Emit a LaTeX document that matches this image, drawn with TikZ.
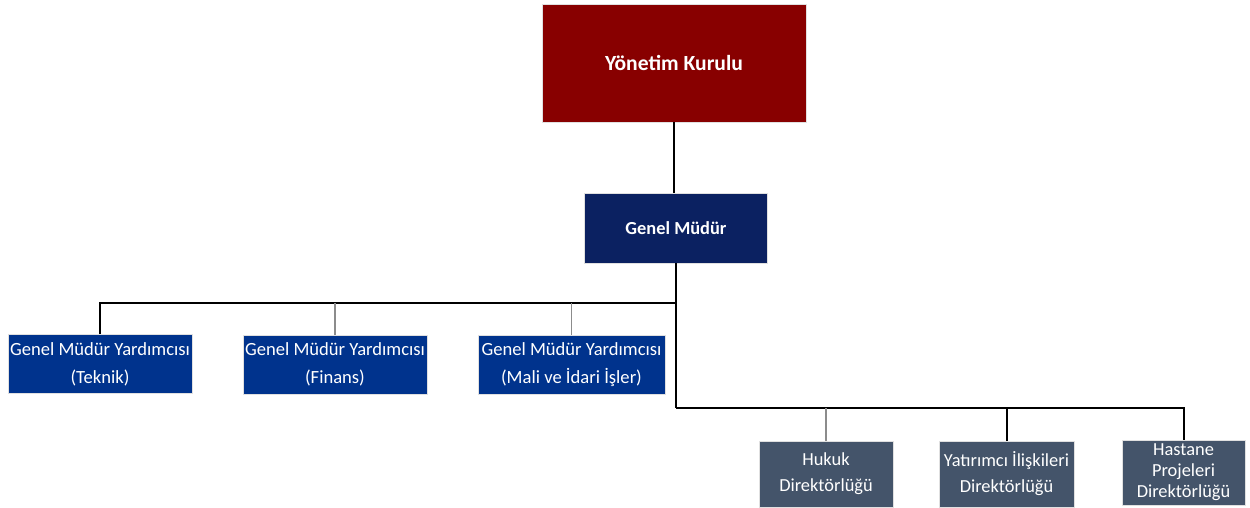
\documentclass[tikz,border=0pt]{standalone}
\usepackage{fontspec}
\setmainfont{Carlito}
\definecolor{boardred}{HTML}{880000}
\definecolor{gmnavy}{HTML}{0B2161}
\definecolor{gmyblue}{HTML}{00338D}
\definecolor{dirslate}{HTML}{44546A}
\begin{document}
\begin{tikzpicture}[x=0.5pt,y=-0.5pt,
  boxbase/.style={rectangle,draw=black!12,line width=0.4pt,text=white,align=center,inner sep=0pt},
  boardbox/.style={boxbase,fill=boardred,minimum width=132pt,minimum height=59pt,font=\fontsize{10.8}{13}\selectfont\bfseries},
  gmbox/.style={boxbase,fill=gmnavy,minimum width=91.5pt,minimum height=35pt,font=\fontsize{9.2}{11}\selectfont\bfseries},
  gmybox/.style={boxbase,fill=gmyblue,minimum height=29.5pt,font=\fontsize{9.3}{14}\selectfont},
  dirbox/.style={boxbase,fill=dirslate,font=\fontsize{9.2}{13}\selectfont},
  mainline/.style={draw=black,line width=1pt},
  thinline/.style={draw=black!45,line width=0.6pt}]
\useasboundingbox[fill=white] (0,0) rectangle (1250,508);
\node[boardbox] (board) at (674,63) {Yönetim Kurulu};
\node[gmbox] (gm) at (676,228) {Genel Müdür};
\node[gmybox,minimum width=92pt] (teknik) at (100,364) {Genel Müdür Yardımcısı\\(Teknik)};
\node[gmybox,minimum width=92pt] (finans) at (335,364.5) {Genel Müdür Yardımcısı\\(Finans)};
\node[gmybox,minimum width=93.5pt] (mali) at (571.5,364.5) {Genel Müdür Yardımcısı\\(Mali ve İdari İşler)};
\node[dirbox,minimum width=67pt,minimum height=33pt] (hukuk) at (826,474) {Hukuk\\Direktörlüğü};
\node[dirbox,minimum width=67.5pt,minimum height=33pt] (yatirim) at (1006.5,474) {Yatırımcı İlişkileri\\Direktörlüğü};
\node[dirbox,minimum width=61.5pt,minimum height=32.5pt,font=\fontsize{9.2}{10.5}\selectfont] (hastane) at (1183.5,472.5) {Hastane\\Projeleri\\Direktörlüğü};
\coordinate (busA) at (676,303);
\coordinate (busB) at (676,408);
\draw[mainline] (board.south) -- (board.south |- gm.north);
\draw[mainline] (gm.south) -- (busA) -- (busB);
\draw[mainline] (teknik.north) |- (busA);
\draw[thinline] (finans.north) -- (finans.north |- busA);
\draw[thinline] (mali.north) -- (mali.north |- busA);
\draw[mainline] (busB) -| (hastane.north);
\draw[mainline] (yatirim.north) -- (yatirim.north |- busB);
\draw[thinline] (hukuk.north) -- (hukuk.north |- busB);
\end{tikzpicture}
\end{document}
